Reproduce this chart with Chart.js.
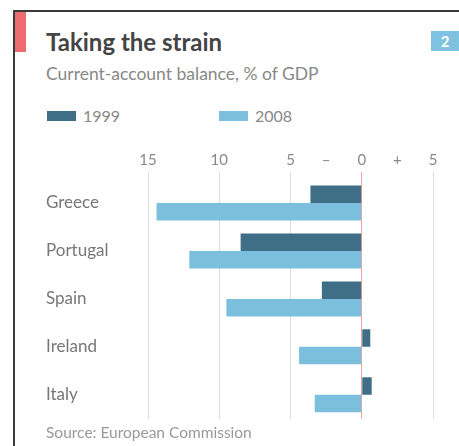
<!DOCTYPE html>
<html lang="en">
  <head>
    <meta charset="UTF-8" />
    <title>Taking the strain</title>
    <style>
      body { margin: 0; width: 459px; height: 446px; background: #fff; position: relative; overflow: hidden; font-family: Lato, 'Open Sans', sans-serif; }
      #frame { position: absolute; left: 13px; top: 10px; right: -5px; bottom: -5px; border-top: 2px solid #3a3a3a; border-left: 2px solid #3a3a3a; }
      #accent { position: absolute; left: 15px; top: 12px; width: 11px; height: 40px; background: #ee6b70; }
      #num { position: absolute; left: 431px; top: 31px; width: 28px; height: 20px; background: #7fc1e0; color: #fff; font-weight: bold; font-size: 15px; text-align: center; line-height: 20px; }
      #title { position: absolute; left: 46px; top: 27px; font-size: 24px; font-weight: bold; color: #444; }
      #subtitle { position: absolute; left: 46px; top: 63px; font-size: 17.5px; color: #888; }
      #legend { position: absolute; left: 47px; top: 106px; font-size: 16px; color: #888; }
      .item { position: absolute; top: 0; white-space: nowrap; }
      .swatch { display: inline-block; width: 29px; height: 10px; vertical-align: 1px; margin-right: 7px; }
      #chartBox { position: absolute; left: 46px; top: 144px; width: 413px; height: 288px; }
      #source { position: absolute; left: 46px; top: 423px; font-size: 15.5px; color: #999; }
    </style>
  </head>

  <body>
    <div id="frame"></div>
    <div id="accent"></div>
    <div id="num">2</div>
    <div id="title">Taking the strain</div>
    <div id="subtitle">Current-account balance, % of GDP</div>
    <div id="legend"></div>
    <div id="chartBox"><canvas id="myChart"></canvas></div>
    <div id="source">Source: European Commission</div>

    <script src="https://cdn.jsdelivr.net/npm/chart.js@4/dist/chart.umd.min.js"></script>
    <script>
      const countries = ['Greece', 'Portugal', 'Spain', 'Ireland', 'Italy']
      const years = ['1999', '2008']
      const y1999 = [-3.6, -8.5, -2.8, 0.6, 0.7]
      const y2008 = [-14.4, -12.1, -9.5, -4.4, -3.3]
      const barColors = ['#3f6f86', '#7cbfdd']

      // html legend, the two items sit far apart in the original
      const legend = document.getElementById('legend')
      const legendX = [0, 172]
      years.forEach((yr, i) => {
        const item = document.createElement('span')
        item.className = 'item'
        item.style.left = legendX[i] + 'px'
        item.innerHTML = '<span class="swatch" style="background:' + barColors[i] + '"></span>' + yr
        legend.appendChild(item)
      })

      // only multiples of 5 get a line, 0 is red
      const gridColor = (ctx) => {
        const v = ctx.tick.value
        if (v === 0) return '#f4a0a6'
        if (v % 5 !== 0) return 'rgba(0,0,0,0)'
        return '#dcdcdc'
      }

      const tickLabel = (v) => {
        if (v === -2.5) return '\u2013'
        if (v === 2.5) return '+'
        if (v % 5 !== 0) return ''
        return Math.abs(v)
      }

      new Chart('myChart', {
        type: 'bar',
        data: {
          labels: countries,
          datasets: [
            { label: years[0], data: y1999, backgroundColor: barColors[0] },
            { label: years[1], data: y2008, backgroundColor: barColors[1] },
          ],
        },
        options: {
          indexAxis: 'y',
          responsive: true,
          maintainAspectRatio: false,
          animation: false,
          layout: { padding: { top: 4, right: 26, left: 0, bottom: 0 } },
          datasets: { bar: { barPercentage: 1, categoryPercentage: 0.73 } },
          plugins: { legend: { display: false }, tooltip: { enabled: false } },
          scales: {
            x: {
              position: 'top',
              min: -15,
              max: 5,
              border: { display: false },
              grid: { color: gridColor, tickLength: 7, lineWidth: 1 },
              ticks: {
                stepSize: 2.5,
                autoSkip: false,
                maxRotation: 0,
                minRotation: 0,
                padding: 3,
                color: '#888',
                font: { family: 'Lato', size: 15 },
                callback: tickLabel,
              },
            },
            y: {
              border: { display: false },
              grid: { display: false },
              afterFit: (scale) => { scale.width = 102 },
              ticks: {
                crossAlign: 'far',
                color: '#777',
                font: { family: 'Lato', size: 17 },
              },
            },
          },
        },
      })
    </script>
  </body>
</html>
